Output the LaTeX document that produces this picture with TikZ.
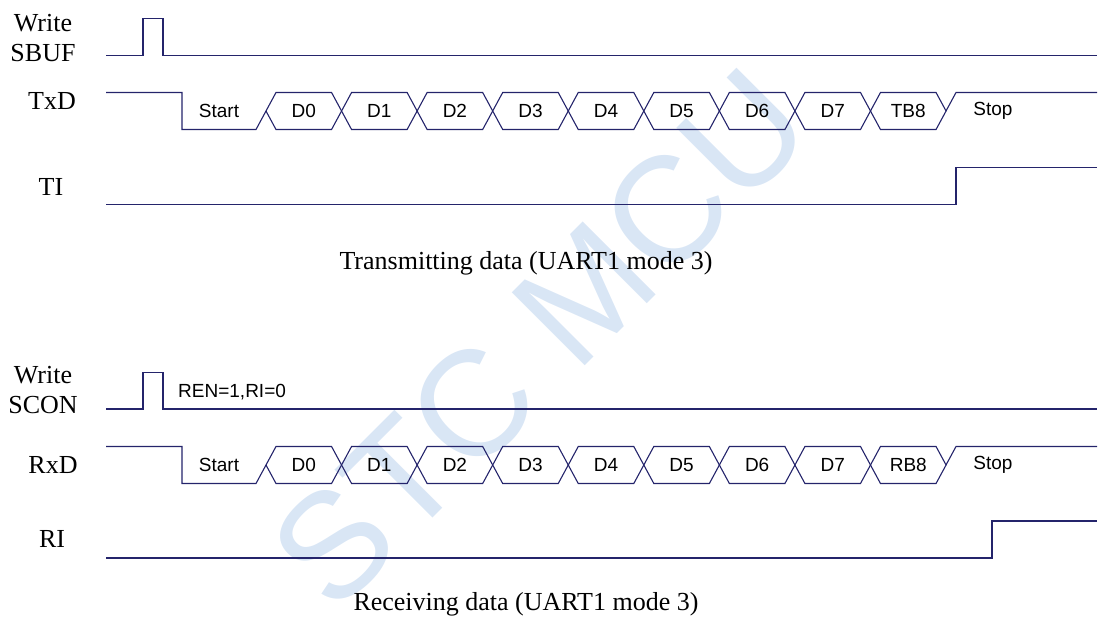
\documentclass[tikz,border=0pt]{standalone}
\usepackage{fontspec}
\setmainfont{Liberation Serif}
\setsansfont{Liberation Sans}
\usetikzlibrary{positioning}
\definecolor{wave}{HTML}{24246B}
\definecolor{stampblue}{HTML}{D9E6F5}
\tikzset{
  sig/.style={draw=wave,line width=1.1pt},
  signame/.style={font=\fontsize{26}{30}\selectfont,anchor=base,inner sep=0pt},
  capline/.style={font=\fontsize{26}{30}\selectfont,anchor=base,inner sep=0pt},
  bitlbl/.style={font=\sffamily\fontsize{19}{22}\selectfont,inner sep=0pt},
  stamp/.style={font=\sffamily\fontsize{150}{160}\selectfont,text=stampblue,
                rotate=45,inner sep=0pt}
}
% one serial frame: start, D0..D7, 9th bit, stop
\newcommand{\frameline}[4]{%
  \pgfmathsetmacro{\ym}{(#1+#2)/2}
  \draw[sig] (106,#1) -- (182,#1) -- (182,#2) -- (256,#2) -- (266,\ym);
  \foreach \lbl [count=\k from 0] in {D0,D1,D2,D3,D4,D5,D6,D7,#3} {
    \pgfmathsetmacro{\xa}{266+75.56*\k}
    \pgfmathsetmacro{\xb}{\xa+75.56}
    \draw[sig] (\xa,\ym) -- (\xa+10,#1) -- (\xb-10,#1) -- (\xb,\ym)
      -- (\xb-10,#2) -- (\xa+10,#2) -- cycle;
    \node[bitlbl] (#4\lbl) at ({(\xa+\xb)/2},\ym) {\lbl};
  }
  \draw[sig] (946,\ym) -- (956,#1) -- (1097,#1);
  \node[bitlbl] (#4start) at (219,\ym) {Start};
  \node[bitlbl] (#4stop) at (993,\ym) {Stop};
}
\begin{document}
\begin{tikzpicture}[x=1pt,y=-1pt]
  \useasboundingbox (0,0) rectangle (1099,616);
  \node[stamp] (stamp) at (540,338) {STC MCU};

  % transmit
  \node[signame] (wsbuf1) at (43,31) {Write};
  \node[signame] (wsbuf2) at (43,61) {SBUF};
  \node[signame] (txd) at (52,109) {TxD};
  \node[signame] (ti) at (51,195) {TI};
  \draw[sig] (106,55.5) -- (143,55.5) -- (143,18.5) -- (163,18.5)
    -- (163,55.5) -- (1097,55.5);
  \frameline{92.5}{129.5}{TB8}{tx}
  \draw[sig] (106,204.5) -- (956,204.5) -- (956,167.5) -- (1097,167.5);
  \node[capline] (txcap) at (526,269) {Transmitting data (UART1 mode 3)};

  % receive
  \node[signame] (wscon1) at (43,383) {Write};
  \node[signame] (wscon2) at (43,413) {SCON};
  \node[signame] (rxd) at (53,473) {RxD};
  \node[signame] (ri) at (52,547) {RI};
  \draw[sig] (106,409) -- (143,409) -- (143,372.5) -- (163,372.5)
    -- (163,409) -- (1097,409);
  \node[bitlbl,anchor=base west] (renri) at (178,397) {REN=1,RI=0};
  \frameline{446.5}{483.5}{RB8}{rx}
  \draw[sig] (106,558) -- (992,558) -- (992,521) -- (1097,521);
  \node[capline] (rxcap) at (526,610) {Receiving data (UART1 mode 3)};
\end{tikzpicture}
\end{document}
